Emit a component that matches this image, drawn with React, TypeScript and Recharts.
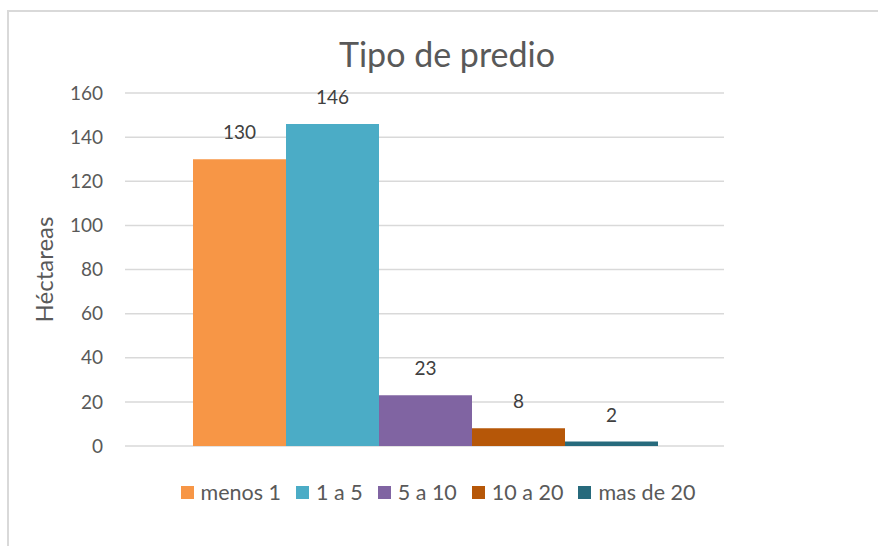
import React from "react";
import {
  BarChart,
  Bar,
  XAxis,
  YAxis,
  CartesianGrid,
  LabelList,
  Label,
} from "recharts";

const seriesNames = ["menos 1", "1 a 5", "5 a 10", "10 a 20", "mas de 20"];
const seriesValues = [130, 146, 23, 8, 2];
const seriesColors = ["#F79646", "#4BACC6", "#8064A2", "#B65708", "#276A7C"];
const yTicks = [0, 20, 40, 60, 80, 100, 120, 140, 160];

const row: Record<string, string | number> = { name: "Tipo de predio" };
seriesNames.forEach((n, i) => {
  row[n] = seriesValues[i];
});
const data = [row];

const font = "Lato, 'Open Sans', sans-serif";

const App: React.FC = () => {
  return (
    <div
      style={{
        position: "absolute",
        left: 7,
        top: 10,
        width: 869,
        height: 534,
        borderLeft: "2px solid #d9d9d9",
        borderTop: "2px solid #d9d9d9",
        background: "#fff",
        fontFamily: font,
      }}
    >
      {/* Title */}
      <div
        style={{
          position: "absolute",
          left: 0,
          top: 21,
          width: 876,
          textAlign: "center",
          fontSize: 34,
          color: "#595959",
        }}
      >
        Tipo de predio
      </div>
      <BarChart
        width={869}
        height={534}
        data={data}
        margin={{ top: 81, right: 154, left: 0, bottom: 100 }}
        barCategoryGap={68}
        barGap={0}
      >
        <CartesianGrid vertical={false} stroke="#d9d9d9" strokeWidth={1.5} />
        <XAxis dataKey="name" hide />
        <YAxis
          width={116}
          domain={[0, 160]}
          ticks={yTicks}
          axisLine={false}
          tickLine={false}
          tickSize={0}
          tickMargin={22}
          tick={{ fill: "#595959", fontSize: 19, fontFamily: font }}
        >
          <Label
            value="Héctareas"
            angle={-90}
            position="insideLeft"
            offset={35}
            style={{ fill: "#595959", fontSize: 24, fontFamily: font, textAnchor: "middle" }}
          />
        </YAxis>
        {seriesNames.map((n, i) => (
          <Bar key={n} dataKey={n} fill={seriesColors[i]} isAnimationActive={false}>
            <LabelList
              dataKey={n}
              position="top"
              offset={20}
              style={{ fill: "#404040", fontSize: 19, fontFamily: font }}
            />
          </Bar>
        ))}
      </BarChart>
      {/* Legend */}
      <div
        style={{
          position: "absolute",
          left: 0,
          top: 467,
          width: 858,
          display: "flex",
          justifyContent: "center",
          gap: 15,
          fontSize: 21.5,
          color: "#595959",
        }}
      >
        {seriesNames.map((n, i) => (
          <div key={n} style={{ display: "flex", alignItems: "center" }}>
            <span
              style={{
                display: "inline-block",
                width: 13,
                height: 13,
                background: seriesColors[i],
                marginRight: 7,
              }}
            />
            {n}
          </div>
        ))}
      </div>
    </div>
  );
};

export default App;
